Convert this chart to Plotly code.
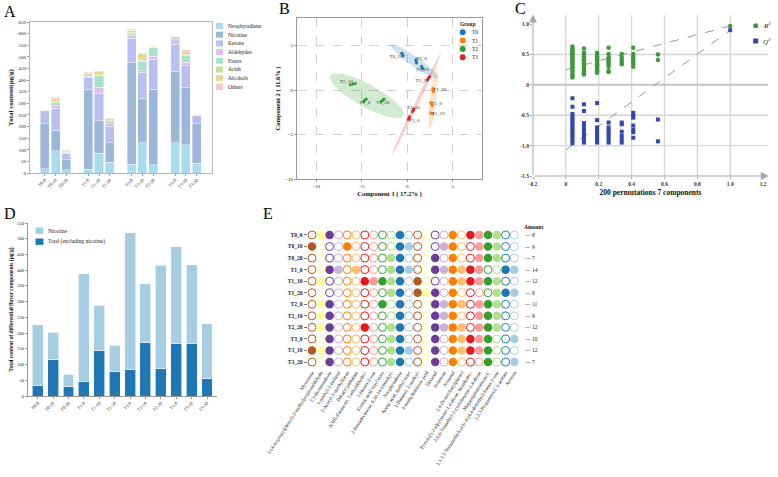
import numpy as np
import plotly.graph_objects as go

W, H = 778, 477
SERIF = "Liberation Serif, Times New Roman, serif"


def PX(x):
    return x / W


def PY(y):
    return 1 - y / H


# ---------------- Panel A data ----------------
a_samples = ["T0-0", "T0-10", "T0-20", "T1-0", "T1-10", "T1-20",
             "T2-0", "T2-10", "T2-20", "T3-0", "T3-10", "T3-20"]
a_order = ["T0-0", "T0-10", "T0-20", " ", "T1-0", "T1-10", "T1-20", "  ",
           "T2-0", "T2-10", "T2-20", "   ", "T3-0", "T3-10", "T3-20"]
a_classes = ["Neophytadiene", "Nicotine", "Ketone", "Aldehydes", "Esters",
             "Acids", "Alcohols", "Others"]
a_neophytadiene = [19, 96, 14, 17, 86, 47, 37, 131, 36, 131, 121, 41]
a_nicotine = [192, 88, 42, 344, 140, 84, 437, 188, 324, 308, 248, 170]
a_ketone = [56, 95, 27, 52, 115, 70, 105, 115, 130, 115, 92, 35]
a_aldehydes = [3, 10, 5, 3, 28, 12, 12, 7, 12, 19, 16, 2]
a_esters = [3, 14, 2, 8, 50, 8, 10, 40, 38, 10, 27, 2]
a_acids = [1, 4, 1, 4, 2, 4, 3, 5, 2, 3, 6, 1]
a_alcohols = [1, 12, 8, 3, 15, 10, 10, 27, 3, 1, 13, 2]
a_others = [1, 7, 1, 4, 4, 2, 4, 3, 2, 2, 8, 1]
a_colors = ["#a9dcec", "#9db7da", "#b7c0f0", "#dcc0ea", "#a8e2c8",
            "#c4e09c", "#e4d995", "#f5c6ca"]
a_series = [a_neophytadiene, a_nicotine, a_ketone, a_aldehydes, a_esters,
            a_acids, a_alcohols, a_others]

# ---------------- Panel B data (PLS-DA scores, 3 replicates per sample) ----------------
b_groups = ["T0", "T1", "T2", "T3"]
b_group_colors = ["#1f77b4", "#ff7f0e", "#2ca02c", "#d62728"]
b_samples = {
    "T0": ["T0_0", "T0_10", "T0_20"],
    "T1": ["T1_0", "T1_10", "T1_20"],
    "T2": ["T2_0", "T2_10", "T2_20"],
    "T3": ["T3_0", "T3_10", "T3_20"],
}
b_comp1 = {
    "T0_0": [0.95, 0.98, 1.02], "T0_10": [-0.6, -0.5, -0.45], "T0_20": [1.56, 1.64, 1.71],
    "T1_0": [2.58, 2.65, 2.73], "T1_10": [2.58, 2.69, 2.8], "T1_20": [2.8, 2.84, 2.87],
    "T2_0": [-4.8, -4.66, -4.5], "T2_10": [-6.25, -5.96, -5.7], "T2_20": [-2.84, -2.69, -2.55],
    "T3_0": [0.11, 0.18, 0.25], "T3_10": [0.58, 0.65, 0.73], "T3_20": [2.22, 2.33, 2.44],
}
b_comp2 = {
    "T0_0": [3.4, 3.2, 3.05], "T0_10": [4.15, 4.0, 3.85], "T0_20": [2.67, 2.52, 2.4],
    "T1_0": [-1.39, -1.58, -1.73], "T1_10": [-2.56, -2.63, -2.67], "T1_20": [0.19, 0.0, -0.19],
    "T2_0": [-1.28, -1.13, -1.0], "T2_10": [0.6, 0.68, 0.75], "T2_20": [-1.28, -1.13, -1.0],
    "T3_0": [-3.3, -3.16, -3.0], "T3_10": [-2.4, -2.26, -2.1], "T3_20": [1.2, 1.35, 1.5],
}
b_label_pos = {
    "T0_0": "top right", "T0_10": "bottom left", "T0_20": "bottom center",
    "T1_0": "middle right", "T1_10": "middle right", "T1_20": "middle right",
    "T2_0": "bottom center", "T2_10": "top left", "T2_20": "bottom center",
    "T3_0": "bottom right", "T3_10": "top center", "T3_20": "bottom left",
}
# confidence ellipses: centre x, centre y, semi-major, semi-minor, angle(deg)
b_ellipses = {
    "T0": (0.8, 3.21, 3.18, 0.55, -35.9),
    "T1": (2.84, -0.92, 3.5, 0.35, 84.0),
    "T2": (-4.44, -0.64, 4.6, 1.28, -29.5),
    "T3": (1.02, -1.52, 6.39, 0.22, 64.7),
}
b_fill = ["rgba(31,119,180,0.22)", "rgba(255,127,14,0.22)",
          "rgba(44,160,44,0.22)", "rgba(214,39,40,0.22)"]

# ---------------- Panel C data (permutation test) ----------------
c_levels = [0.04, 0.11, 0.19, 0.26, 0.34, 0.41, 0.56]
c_r2 = [
    [0.63, 0.6, 0.57, 0.55, 0.52, 0.5, 0.48, 0.45, 0.43, 0.4, 0.38, 0.35, 0.33,
     0.3, 0.28, 0.25, 0.22, 0.18, 0.15, 0.12],
    [0.6, 0.53, 0.5, 0.47, 0.45, 0.42, 0.4, 0.37, 0.35, 0.33, 0.3, 0.28, 0.25,
     0.22, 0.19, 0.17],
    [0.53, 0.5, 0.47, 0.45, 0.42, 0.4, 0.38, 0.36, 0.34, 0.32, 0.3, 0.28, 0.26,
     0.24, 0.22, 0.2],
    [0.61, 0.51, 0.45, 0.42, 0.39, 0.36, 0.33, 0.3, 0.23, 0.21],
    [0.51, 0.45, 0.41, 0.37, 0.34],
    [0.61, 0.51, 0.47, 0.43, 0.39, 0.35, 0.3],
    [0.5, 0.41],
]
c_q2 = [
    [-0.22, -0.36, -0.48, -0.52, -0.56, -0.6, -0.64, -0.68, -0.72, -0.76, -0.8,
     -0.84, -0.88, -0.92, -0.96],
    [-0.32, -0.43, -0.63, -0.67, -0.71, -0.75, -0.79, -0.83, -0.87, -0.91, -0.95],
    [-0.3, -0.58, -0.7, -0.74, -0.78, -0.82, -0.86, -0.9, -0.95],
    [-0.62, -0.7, -0.75, -0.8, -0.85, -0.9, -0.95],
    [-0.62, -0.65, -0.77, -0.84, -0.9, -0.95],
    [-0.46, -0.5, -0.54, -0.67, -0.74, -0.78, -0.87],
    [-0.57, -0.93],
]
c_orig_x = 1.0
c_orig_r2 = 0.97
c_orig_q2 = 0.90
c_r2_intercept = 0.25
c_q2_intercept = -1.07

# ---------------- Panel D data ----------------
d_samples = a_samples
d_excl_nicotine = [34, 117, 29, 46, 146, 77, 85, 171, 88, 166, 168, 55]
d_nicotine = [193, 86, 40, 343, 142, 84, 434, 186, 327, 308, 250, 174]

# ---------------- Panel E data ----------------
e_rows = ["T0_0", "T0_10", "T0_20", "T1_0", "T1_10", "T1_20",
          "T2_0", "T2_10", "T2_20", "T3_0", "T3_10", "T3_20"]
e_compounds = [
    "Myosmine",
    "3-(4-isopropylphenyl)-2-methylpropionaldehyde",
    "2,3-Bornanedione",
    "5-methyl-2-furfural",
    "2-Acetyl-5-methylfuran",
    "Dibutyl phthalate",
    "2(3H)-Furanone, 5-ethyldihydro-",
    "5-Hexen-2-one",
    "Formic acid vinyl ester",
    "2-Pentadecanone, 6,10,14-trimethyl-",
    "Neophytadiene",
    "Acetic acid, methyl ester",
    "1-Butanol, 2-methyl-",
    "3-methylbutanoic acid",
    "Decanal",
    "Solanone",
    "Nonanal",
    "2,4-Di-tert-butylphenol",
    "Pyrrolo[1,2-a]pyrazine-1,4-dione, hexahydro-",
    "2,6,6-Trimethyl-2-cyclohexene-1,4-dione",
    "Megastigmatrienone C",
    "1,1,3,3-Tetramethylcyclo-4-(4,4-dimethyl)-butan-2-one",
    "1,2,3-Propanetriol, 1-acetate",
    "Acetoin",
]
e_presence = [
    "011000000010000010111100",
    "100010000011000110011100",
    "000000000110001010011100",
    "001101000111001111110011",
    "010000111110100011111100",
    "000000000110111010000111",
    "011000001010001111011100",
    "011000000010001110011100",
    "011000100110001111011100",
    "001000000110001011111001",
    "111000000111001011111000",
    "001000000110001010001001",
]
e_amount = [8, 9, 7, 14, 12, 9, 11, 9, 12, 10, 12, 7]
e_palette = ["#b15928", "#ffff99", "#6a3d9a", "#cab2d6", "#ff7f00", "#fdbf6f",
             "#e31a1c", "#fb9a99", "#33a02c", "#b2df8a", "#1f78b4", "#a6cee3"]

fig = go.Figure()

# ---------- Panel A traces ----------
for name, vals, col in zip(a_classes, a_series, a_colors):
    fig.add_trace(go.Bar(x=a_samples, y=vals, name=name, marker_color=col,
                         marker_line=dict(color="white", width=0.4), width=0.83,
                         xaxis="x", yaxis="y", showlegend=False))

# ---------- Panel B traces ----------
t = np.linspace(0, 2 * np.pi, 120)
for g, fc in zip(b_groups, b_fill):
    cx, cy, a, b, ang = b_ellipses[g]
    th = np.deg2rad(ang)
    ex = cx + a * np.cos(t) * np.cos(th) - b * np.sin(t) * np.sin(th)
    ey = cy + a * np.cos(t) * np.sin(th) + b * np.sin(t) * np.cos(th)
    fig.add_trace(go.Scatter(x=ex, y=ey, mode="lines", fill="toself", fillcolor=fc,
                             line=dict(width=0), hoverinfo="skip",
                             xaxis="x2", yaxis="y2", showlegend=False))
for g, col in zip(b_groups, b_group_colors):
    xs, ys = [], []
    for s in b_samples[g]:
        xs += b_comp1[s]
        ys += b_comp2[s]
    fig.add_trace(go.Scatter(x=xs, y=ys, mode="markers", name=g,
                             marker=dict(color=col, size=3),
                             xaxis="x2", yaxis="y2", showlegend=False))
lab_x, lab_y, lab_t, lab_p = [], [], [], []
for g in b_groups:
    for s in b_samples[g]:
        lab_x.append(float(np.mean(b_comp1[s])))
        lab_y.append(float(np.mean(b_comp2[s])))
        lab_t.append(s)
        lab_p.append(b_label_pos[s])
fig.add_trace(go.Scatter(x=lab_x, y=lab_y, mode="text", text=lab_t, textposition=lab_p,
                         textfont=dict(size=5, color="#333333", family=SERIF),
                         xaxis="x2", yaxis="y2", showlegend=False, hoverinfo="skip"))

# ---------- Panel C traces ----------
r2x, r2y, q2x, q2y = [], [], [], []
for lv, rv, qv in zip(c_levels, c_r2, c_q2):
    r2x += [lv] * len(rv)
    r2y += rv
    q2x += [lv] * len(qv)
    q2y += qv
r2x.append(c_orig_x); r2y.append(c_orig_r2)
q2x.append(c_orig_x); q2y.append(c_orig_q2)
fig.add_trace(go.Scatter(x=[0, c_orig_x], y=[c_r2_intercept, c_orig_r2], mode="lines",
                         line=dict(color="#9a9a9a", width=1, dash="dash"),
                         xaxis="x3", yaxis="y3", showlegend=False))
fig.add_trace(go.Scatter(x=[0, c_orig_x], y=[c_q2_intercept, c_orig_q2], mode="lines",
                         line=dict(color="#9a9a9a", width=1, dash="dash"),
                         xaxis="x3", yaxis="y3", showlegend=False))
fig.add_trace(go.Scatter(x=r2x, y=r2y, mode="markers", name="R2",
                         marker=dict(color="#3c9a3c", size=4.5, symbol="circle"),
                         xaxis="x3", yaxis="y3", showlegend=False))
fig.add_trace(go.Scatter(x=q2x, y=q2y, mode="markers", name="Q2",
                         marker=dict(color="#3447b0", size=4, symbol="square"),
                         xaxis="x3", yaxis="y3", showlegend=False))

# ---------- Panel D traces ----------
fig.add_trace(go.Bar(x=d_samples, y=d_excl_nicotine, name="Total (excluding nicotine)",
                     marker_color="#1f78b4", marker_line=dict(color="white", width=0.6),
                     width=0.71, xaxis="x4", yaxis="y4", showlegend=False))
fig.add_trace(go.Bar(x=d_samples, y=d_nicotine, name="Nicotine",
                     marker_color="#a6cee3", marker_line=dict(color="white", width=0.6),
                     width=0.71, xaxis="x4", yaxis="y4", showlegend=False))

# ---------- Panel E traces ----------
fx, fy, fc, ox, oy, oc = [], [], [], [], [], []
for r, row in enumerate(e_presence):
    for c, ch in enumerate(row):
        colr = e_palette[c % 12]
        if ch == "1":
            fx.append(e_compounds[c]); fy.append(e_rows[r]); fc.append(colr)
        else:
            ox.append(e_compounds[c]); oy.append(e_rows[r]); oc.append(colr)
fig.add_trace(go.Scatter(x=ox, y=oy, mode="markers",
                         marker=dict(symbol="circle", size=8, color="white",
                                     line=dict(color=oc, width=1)),
                         xaxis="x5", yaxis="y5", showlegend=False))
fig.add_trace(go.Scatter(x=fx, y=fy, mode="markers",
                         marker=dict(symbol="circle", size=8.5, color=fc,
                                     line=dict(width=0)),
                         xaxis="x5", yaxis="y5", showlegend=False))

# ---------- Layout ----------
tickf = dict(family=SERIF, size=5, color="#222")
shapes = []
annotations = []

# Panel letters
for letter, x, y in [("A", 10, 12), ("B", 284, 9), ("C", 520, 9), ("D", 10, 213), ("E", 268, 213)]:
    annotations.append(dict(x=PX(x), y=PY(y), xref="paper", yref="paper", text=letter,
                            xanchor="center", yanchor="middle",
                            showarrow=False, font=dict(family=SERIF, size=16, color="black")))

# Panel A legend
for i, (name, col) in enumerate(zip(a_classes, a_colors)):
    cy = 26 + 8.7 * i
    shapes.append(dict(type="rect", xref="paper", yref="paper", x0=PX(216), x1=PX(223),
                       y0=PY(cy + 3), y1=PY(cy - 3), fillcolor=col, line=dict(width=0)))
    annotations.append(dict(x=PX(226), y=PY(cy), xref="paper", yref="paper", text=name,
                            xanchor="left", yanchor="middle", showarrow=False,
                            font=dict(family=SERIF, size=5.5, color="#222")))

# Panel B legend
annotations.append(dict(x=PX(468), y=PY(24), xref="paper", yref="paper", text="<b>Group</b>",
                        xanchor="center", yanchor="middle",
                        showarrow=False, font=dict(family=SERIF, size=5.5, color="#222")))
for i, (g, col) in enumerate(zip(b_groups, b_group_colors)):
    cy = 32.3 + 8.3 * i
    shapes.append(dict(type="circle", xref="paper", yref="paper", x0=PX(459.7), x1=PX(465.7),
                       y0=PY(cy + 3), y1=PY(cy - 3), fillcolor=col, line=dict(width=0)))
    annotations.append(dict(x=PX(470), y=PY(cy), xref="paper", yref="paper", text=g,
                            xanchor="left", yanchor="middle", showarrow=False,
                            font=dict(family=SERIF, size=5.5, color="#222")))

# Panel C decorations
for v in [0, 0.2, 0.4, 0.6, 0.8, 1.0]:
    shapes.append(dict(type="line", xref="x3", yref="y3", x0=v, x1=v, y0=-1.5, y1=1.15,
                       line=dict(color="#d6d6d6", width=1.3), layer="below"))
for h in [-1.0, -0.5, 0.5]:
    shapes.append(dict(type="line", xref="x3", yref="y3", x0=-0.2, x1=1.23, y0=h, y1=h,
                       line=dict(color="#d6d6d6", width=1.3), layer="below"))
shapes.append(dict(type="line", xref="x3", yref="y3", x0=-0.2, x1=1.23, y0=0, y1=0,
                   line=dict(color="#c4c4c4", width=2), layer="below"))
annotations.append(dict(x=1.235, y=-1.5, ax=-0.2, ay=-1.5, xref="x3", yref="y3",
                        axref="x3", ayref="y3", text="", showarrow=True, arrowhead=2,
                        arrowsize=1.6, arrowwidth=1, arrowcolor="#a8a8a8"))
annotations.append(dict(x=-0.2, y=1.16, ax=-0.2, ay=-1.5, xref="x3", yref="y3",
                        axref="x3", ayref="y3", text="", showarrow=True, arrowhead=2,
                        arrowsize=1.6, arrowwidth=1, arrowcolor="#a8a8a8"))
shapes.append(dict(type="circle", xref="paper", yref="paper", x0=PX(753.2), x1=PX(758.2),
                   y0=PY(28.2), y1=PY(23.2), fillcolor="#3c9a3c", line=dict(width=0)))
shapes.append(dict(type="rect", xref="paper", yref="paper", x0=PX(753.2), x1=PX(758.2),
                   y0=PY(43.5), y1=PY(38.5), fillcolor="#3447b0", line=dict(width=0)))
annotations.append(dict(x=PX(761), y=PY(25.5), xref="paper", yref="paper",
                        text="<i>R</i><sup>2</sup>", xanchor="left", yanchor="middle",
                        showarrow=False, font=dict(family=SERIF, size=7, color="#222")))
annotations.append(dict(x=PX(761), y=PY(41), xref="paper", yref="paper",
                        text="<i>Q</i><sup>2</sup>", xanchor="left", yanchor="middle",
                        showarrow=False, font=dict(family=SERIF, size=7, color="#222")))

# Panel D legend
for name, col, cy in [("Nicotine", "#a6cee3", 230.7), ("Total (excluding nicotine)", "#1f78b4", 241.7)]:
    shapes.append(dict(type="rect", xref="paper", yref="paper", x0=PX(35.5), x1=PX(43.5),
                       y0=PY(cy + 3.2), y1=PY(cy - 3.2), fillcolor=col, line=dict(width=0)))
    annotations.append(dict(x=PX(45.5), y=PY(cy), xref="paper", yref="paper", text=name,
                            xanchor="left", yanchor="middle", showarrow=False,
                            font=dict(family=SERIF, size=5.5, color="#222")))

# Panel E amounts
annotations.append(dict(x=PX(522), y=PY(227), xref="paper", yref="paper", text="<b>Amount</b>",
                        xanchor="left", yanchor="middle", showarrow=False,
                        font=dict(family=SERIF, size=5.5, color="#111")))
for i, amt in enumerate(e_amount):
    annotations.append(dict(x=PX(522), y=i, xref="paper", yref="y5", text="\u2014 " + str(amt),
                            xanchor="left", yanchor="middle", showarrow=False,
                            font=dict(family=SERIF, size=5.5, color="#222")))

fig.update_layout(
    width=W, height=H, margin=dict(l=0, r=0, t=0, b=0, autoexpand=False),
    paper_bgcolor="white", plot_bgcolor="white", barmode="stack", showlegend=False,
    font=dict(family=SERIF, size=6, color="#222"),
    shapes=shapes, annotations=annotations,
    # A
    xaxis=dict(domain=[PX(30), PX(212)], anchor="y", type="category", automargin=False,
               categoryorder="array", categoryarray=a_order, range=[-1.35, 15.4],
               tickmode="array", tickvals=a_samples, tickangle=-45,
               tickfont=dict(family=SERIF, size=4.5, color="#222"),
               showline=True, mirror=True, linecolor="#b5b5b5", linewidth=1,
               ticks="outside", ticklen=2, tickcolor="#999", showgrid=False),
    yaxis=dict(domain=[PY(173), PY(22)], anchor="x", range=[0, 650], dtick=50,
               automargin=False,
               tickfont=tickf, showline=True, mirror=True, linecolor="#b5b5b5",
               ticks="outside", ticklen=2, tickcolor="#999", showgrid=False, zeroline=False,
               title=dict(text="<b>Total content(\u03bcg/g)</b>",
                          font=dict(family=SERIF, size=7, color="#111"), standoff=4)),
    # B
    xaxis2=dict(domain=[PX(297), PX(482)], anchor="y2", range=[-12.1, 8.2], automargin=False,
                tickvals=[-10, -5, 0, 5], tickfont=tickf, showgrid=True, griddash="dash",
                gridcolor="#cfcfcf", gridwidth=1, zeroline=False, showline=True, mirror=True,
                linecolor="#999", ticks="outside", ticklen=2, tickcolor="#999",
                title=dict(text="<b>Component 1 ( 17.2% )</b>",
                           font=dict(family=SERIF, size=6.5, color="#111"), standoff=3)),
    yaxis2=dict(domain=[PY(179), PY(18)], anchor="x2", range=[-10, 8.1], automargin=False,
                tickvals=[-10, -5, 0, 5], tickfont=tickf, showgrid=True, griddash="dash",
                gridcolor="#cfcfcf", gridwidth=1, zeroline=False, showline=True, mirror=True,
                linecolor="#999", ticks="outside", ticklen=2, tickcolor="#999",
                title=dict(text="<b>Component 2 ( 11.6% )</b>",
                           font=dict(family=SERIF, size=6.5, color="#111"), standoff=3)),
    # C
    xaxis3=dict(domain=[PX(533), PX(768)], anchor="y3", range=[-0.2, 1.23], automargin=False,
                tickmode="array", tickvals=[-0.2, 0, 0.2, 0.4, 0.6, 0.8, 1.0, 1.2],
                ticktext=["<b>-0.2</b>", "<b>0</b>", "<b>0.2</b>", "<b>0.4</b>", "<b>0.6</b>",
                          "<b>0.8</b>", "<b>1.0</b>", "<b>1.2</b>"],
                tickfont=dict(family=SERIF, size=5.5, color="#333"), showgrid=False,
                zeroline=False, showline=False, ticks="outside", ticklen=2, tickcolor="#aaa",
                title=dict(text="<b>200 permutations 7 components</b>",
                           font=dict(family=SERIF, size=7.5, color="#111"), standoff=4)),
    yaxis3=dict(domain=[PY(176), PY(15)], anchor="x3", range=[-1.5, 1.15], automargin=False,
                tickmode="array", tickvals=[-1.5, -1.0, -0.5, 0, 0.5, 1.0],
                ticktext=["<b>-1.5</b>", "<b>-1.0</b>", "<b>-0.5</b>", "<b>0</b>",
                          "<b>0.5</b>", "<b>1.0</b>"],
                tickfont=dict(family=SERIF, size=5.5, color="#333"), showgrid=False,
                zeroline=False, showline=False, ticks="outside", ticklen=2, tickcolor="#aaa"),
    # D
    xaxis4=dict(domain=[PX(28), PX(217)], anchor="y4", type="category", automargin=False,
                categoryorder="array", categoryarray=d_samples, range=[-0.63, 11.65],
                tickmode="array", tickvals=d_samples, tickangle=-45,
                tickfont=dict(family=SERIF, size=4.5, color="#222"),
                showline=True, linecolor="#999", ticks="outside", ticklen=2,
                tickcolor="#999", showgrid=False),
    yaxis4=dict(domain=[PY(396), PY(223)], anchor="x4", range=[0, 550], dtick=50,
                automargin=False,
                tickfont=dict(family=SERIF, size=4.5, color="#222"), showline=True,
                linecolor="#999", ticks="outside", ticklen=2, tickcolor="#999",
                showgrid=False, zeroline=False,
                title=dict(text="<b>Total content of differential flavor components (\u03bcg/g)</b>",
                           font=dict(family=SERIF, size=5.5, color="#111"), standoff=3)),
    # E
    xaxis5=dict(domain=[PX(307.6), PX(518.8)], anchor="y5", type="category", automargin=False,
                categoryorder="array", categoryarray=e_compounds, range=[-0.5, 23.5],
                tickmode="array", tickvals=e_compounds, tickangle=-57,
                tickfont=dict(family=SERIF, size=5, color="#222"),
                showline=False, showgrid=False, zeroline=False, ticks=""),
    yaxis5=dict(domain=[PY(367.8), PY(229.2)], anchor="x5", type="category", automargin=False,
                categoryorder="array", categoryarray=e_rows, range=[11.5, -0.5],
                tickmode="array", tickvals=e_rows,
                ticktext=["<b>" + r + "</b>" for r in e_rows],
                tickfont=dict(family=SERIF, size=5.5, color="#222"),
                showline=False, showgrid=False, zeroline=False, ticks="outside",
                ticklen=3, tickcolor="#777"),
)

fig.write_html("out.html")
